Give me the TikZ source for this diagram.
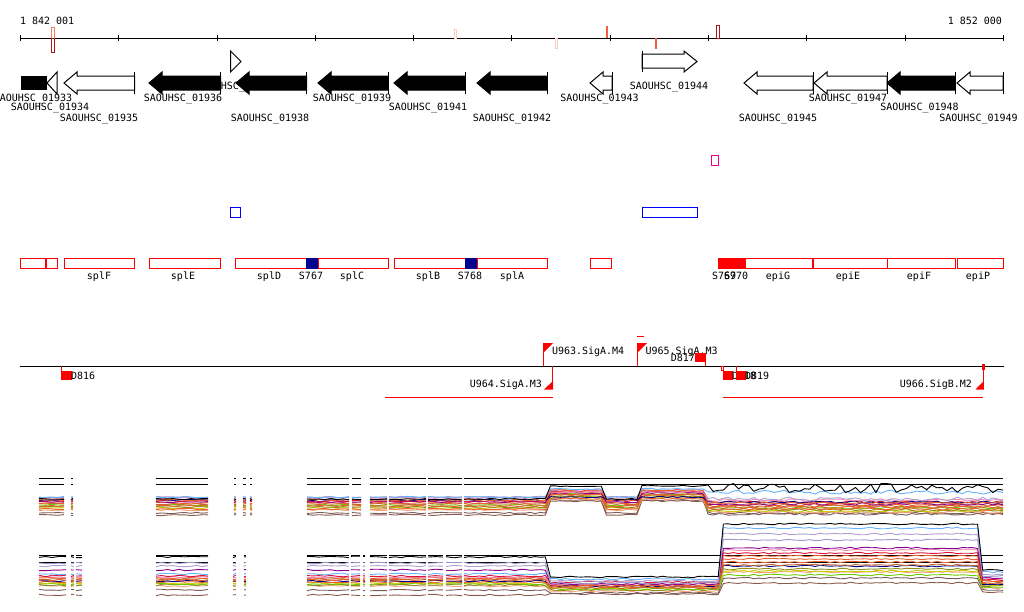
\documentclass[tikz,border=0pt]{standalone}
\usepackage{fontspec}
\setmonofont{DejaVu Sans Mono}
\definecolor{cOR}{HTML}{E8602C}
\definecolor{cBR}{HTML}{8B5A4A}
\definecolor{cOL}{HTML}{8E8E1E}
\definecolor{cGR}{HTML}{66CC00}
\definecolor{cPU}{HTML}{8B008B}
\definecolor{cLB}{HTML}{66B2FF}
\definecolor{cLV}{HTML}{B09ECC}
\definecolor{cLW}{HTML}{9999CC}
\definecolor{cCR}{HTML}{DC143C}
\definecolor{cPK}{HTML}{F08CB4}
\definecolor{cSI}{HTML}{C8642D}
\definecolor{cYE}{HTML}{CCCC00}
\definecolor{cNV}{HTML}{000080}
\definecolor{cSA}{HTML}{F4A07A}
\definecolor{cGB}{HTML}{7A5C5C}
\definecolor{mkSal}{HTML}{F08060}
\definecolor{mkDR}{HTML}{B01818}
\definecolor{mkPale}{HTML}{F8D0C0}
\definecolor{mkOR}{HTML}{F06040}
\definecolor{navyS}{HTML}{000090}
\begin{document}
\begin{tikzpicture}[x=1pt,y=-1pt,
  txt/.style={font=\ttfamily\fontsize{10}{10}\selectfont, inner sep=0pt, outer sep=0pt},
  gline/.style={line width=1pt, draw=black},
  rbox/.style={draw=red, line width=1pt},
  rline/.style={draw=red, line width=1pt},
  tr/.style={line width=0.9pt, line join=round}]
\useasboundingbox (0,0) rectangle (1024,611);
\fill[white] (0,0) rectangle (1024,611);

% ---------- ruler ----------
\draw[line width=1pt] (20,38) -- (1004,38);
\foreach \t in {20.7,118.5,217,315.3,413.6,511.8,610,708.3,806.6,905,1003.3}
  \draw[line width=1pt] (\t,35) -- (\t,41);
\node[txt,anchor=base west] (pstart) at (20,24) {1 842 001};
\node[txt,anchor=base east] (pend) at (1002,24) {1 852 000};
\draw[mkSal,line width=0.8pt] (51.5,27.5) rectangle (54.8,38);
\draw[mkDR,line width=0.8pt] (51.5,38) rectangle (54.8,52);
\draw[mkPale,line width=0.8pt] (454.5,29.5) rectangle (456.5,38);
\draw[mkPale,line width=0.8pt] (555.5,38) rectangle (557.5,48);
\draw[mkOR,line width=2pt] (607,26) -- (607,38);
\draw[mkOR,line width=2pt] (656,38) -- (656,49);
\draw[mkDR,line width=0.8pt] (716.5,25.5) rectangle (719.3,38);

% ---------- gene labels ----------
\node[txt,anchor=base] (l33) at (33,101) {SAOUHSC\_01933};
\node[txt,anchor=base] (l34) at (50,110) {SAOUHSC\_01934};
\node[txt,anchor=base] (l35) at (99,121.5) {SAOUHSC\_01935};
\node[txt,anchor=base] (l36) at (183,101) {SAOUHSC\_01936};
\node[txt,anchor=base] (l37) at (236,89) {SAOUHSC\_01937};
\node[txt,anchor=base] (l38) at (270,121.5) {SAOUHSC\_01938};
\node[txt,anchor=base] (l39) at (352,101) {SAOUHSC\_01939};
\node[txt,anchor=base] (l41) at (428,110) {SAOUHSC\_01941};
\node[txt,anchor=base] (l42) at (512,121.5) {SAOUHSC\_01942};
\node[txt,anchor=base] (l43) at (599.5,101) {SAOUHSC\_01943};
\node[txt,anchor=base] (l44) at (669,89) {SAOUHSC\_01944};
\node[txt,anchor=base] (l45) at (778,121.5) {SAOUHSC\_01945};
\node[txt,anchor=base] (l47) at (848,101) {SAOUHSC\_01947};
\node[txt,anchor=base] (l48) at (919.5,110) {SAOUHSC\_01948};
\node[txt,anchor=base] (l49) at (978.5,121.5) {SAOUHSC\_01949};

% ---------- genes ----------
\newcommand{\geneL}[3]{%
  \draw[gline,fill=#3] (#1,83) -- (#1+13,72) -- (#1+13,76) -- (#2,76) -- (#2,90) -- (#1+13,90) -- (#1+13,94) -- cycle;
  \draw[gline] (#2,72) -- (#2,94);}
\fill[black] (20.5,76) rectangle (47,90);
\draw[gline,fill=white] (47,83) -- (57,72) -- (57,94) -- cycle;
\geneL{64}{134.5}{white}
\geneL{149}{220.5}{black}
\draw[gline,fill=white] (230.5,51) -- (241,61.5) -- (230.5,72) -- cycle;
\geneL{236}{306.5}{black}
\geneL{318}{388}{black}
\geneL{394}{465}{black}
\geneL{477}{547}{black}
\geneL{590}{612}{white}
\draw[gline,fill=white] (642,54) -- (684,54) -- (684,51) -- (697,61.5) -- (684,72) -- (684,68) -- (642,68) -- cycle;
\draw[gline] (642,51) -- (642,72);
\geneL{744}{813}{white}
\geneL{814}{887}{white}
\geneL{887}{955}{black}
\geneL{957}{1003}{white}

% ---------- small boxes ----------
\draw[draw=magenta,line width=1pt] (711.5,155.5) rectangle (718.5,165.5);
\draw[draw=blue,line width=1pt] (230.5,207.5) rectangle (240.5,217.5);
\draw[draw=blue,line width=1pt] (642.5,207.5) rectangle (697.5,217.5);

% ---------- operon boxes ----------
\draw[rbox] (20.7,258.5) rectangle (45,268);
\draw[rbox] (46,258.5) rectangle (57.3,268);
\draw[rbox] (64.3,258.5) rectangle (134.3,268);
\draw[rbox] (149.3,258.5) rectangle (220.3,268);
\draw[rbox] (235.3,258.5) rectangle (306,268);
\fill[navyS] (306,258) rectangle (318,268.5);
\draw[rbox] (318,258.5) rectangle (388.3,268);
\draw[rbox] (394.3,258.5) rectangle (465,268);
\fill[navyS] (465,258) rectangle (477,268.5);
\draw[rbox] (477,258.5) rectangle (547.3,268);
\draw[rbox] (590.3,258.5) rectangle (611.7,268);
\fill[red] (718,258) rectangle (745,268.5);
\draw[rbox] (745,258.5) rectangle (812.3,268);
\draw[rbox] (813.3,258.5) rectangle (887.3,268);
\draw[rbox] (887.3,258.5) rectangle (955.3,268);
\draw[rbox] (957.3,258.5) rectangle (1003.3,268);
\node[txt,anchor=base] (tsplF) at (99,279) {splF};
\node[txt,anchor=base] (tsplE) at (183,279) {splE};
\node[txt,anchor=base] (tsplD) at (269,279) {splD};
\node[txt,anchor=base] (tS767) at (311,279) {S767};
\node[txt,anchor=base] (tsplC) at (352,279) {splC};
\node[txt,anchor=base] (tsplB) at (428,279) {splB};
\node[txt,anchor=base] (tS768) at (470,279) {S768};
\node[txt,anchor=base] (tsplA) at (512,279) {splA};
\node[txt,anchor=base west] (tS769) at (712,279) {S769};
\node[txt,anchor=base west] (tS770) at (724,279) {S770};
\node[txt,anchor=base] (tepiG) at (778,279) {epiG};
\node[txt,anchor=base] (tepiE) at (848,279) {epiE};
\node[txt,anchor=base] (tepiF) at (919,279) {epiF};
\node[txt,anchor=base] (tepiP) at (978,279) {epiP};

% ---------- promoters / terminators ----------
\draw[line width=1pt] (20,366) -- (1004,366);
\draw[rline] (61.5,366) -- (61.5,371);
\fill[red] (61,371) rectangle (71.5,380);
\node[txt,anchor=base west] (tD816) at (71,379) {D816};
% U964
\draw[rline] (385,397.5) -- (553,397.5);
\draw[rline] (552.5,366) -- (552.5,389);
\fill[red] (553,381) -- (553,389.5) -- (544,389.5) -- cycle;
\node[txt,anchor=base east] (tU964) at (542,387) {U964.SigA.M3};
% U963
\draw[rline] (543.5,366) -- (543.5,343);
\fill[red] (543,343) -- (553,343) -- (543,353) -- cycle;
\node[txt,anchor=base west] (tU963) at (552,354) {U963.SigA.M4};
% U965
\draw[rline] (637.5,366) -- (637.5,343);
\fill[red] (637,343) -- (647,343) -- (637,353) -- cycle;
\draw[rline] (637,336) -- (644,336);
\node[txt,anchor=base west] (tU965) at (645.5,354) {U965.SigA.M3};
% D817
\fill[red] (695,353) rectangle (705.5,362);
\draw[rline] (705.3,362) -- (705.3,366);
\node[txt,anchor=base east] (tD817) at (695,361) {D817};
% D818 / D819
\draw[rline] (721.5,366) rectangle (723.5,370.5);
\fill[red] (723.3,371) rectangle (732.5,380);
\node[txt,anchor=base west] (tD818) at (732,379) {D818};
\draw[rline] (736.3,366) -- (736.3,371);
\fill[red] (736,371) rectangle (745.5,380);
\node[txt,anchor=base west] (tD819) at (745,379) {D819};
% U966
\draw[rline] (723,397.5) -- (983,397.5);
\draw[rline] (983.3,366) -- (983.3,389);
\fill[red] (982,364) rectangle (985,370);
\fill[red] (983.8,381) -- (983.8,389.5) -- (975.5,389.5) -- cycle;
\node[txt,anchor=base east] (tU966) at (972,387) {U966.SigB.M2};

% ---------- expression traces ----------
\def\segsTop{39/64,71/73,156/208,234/236,243/246,250/252,307/349,352/361,370/387,389/426,428/462,464/1003}
\def\segsBot{39/66,71/74,76/82,156/208,233/236,244/246,307/349,351/360,363/365,370/387,389/426,428/443,446/462,464/1003}
\pgfmathsetseed{11}
\foreach \a/\b in \segsTop {
  \draw[line width=1pt] (\a,478) -- (\b,478);
  \draw[line width=1pt] (\a,484) -- (\b,484);
}
\foreach \a/\b in \segsBot {
  \draw[line width=1pt] (\a,555) -- (\b,555);
  \draw[line width=1pt] (\a,562) -- (\b,562);
}
\foreach \col/\ya/\yb/\yc/\nz in {
  cGB/513/500/514/0.5, cBR/515/501/513/0.5, cSA/510/499/512/0.5,
  cYE/508/497/511/0.5, cOL/507/496/510/0.5, cGR/505/494/508/0.5,
  cSI/504/494/506/0.5, cOR/509/498/509/0.5, cOR/506/495/507/0.5,
  cOR/503/492/505/0.5, cPU/502/493/504/0.5, cCR/501/491/502/0.5,
  cNV/500/497/502/0.3, cPK/498/492/500/0.5, cLV/497/490/499/1.5,
  cOR/500/490/503/0.5, cLB/497/489/492/1.5, black/499/486/488/4} {
  \foreach \a/\b in \segsTop {
    \pgfmathtruncatemacro\n{max(2,(\b-\a)/5)}
    \draw[tr,\col] plot[domain=\a:\b,samples=\n]
      (\x,{\ya+(\yb-\ya)*((\x>546)*(\x<603)+(\x>639)*(\x<708))+(\yc-\ya)*(\x>708)+(0.7+\nz*(\x>708))*rand});
  }
}
\foreach \col/\yl/\ym/\yh/\yr in {
  cBR/595/594/583/592, cGB/590/593/578/590, cSA/586/591/572/588,
  cOL/585/590/569/586, cGR/584/589/575/587, cYE/583/588/571/585,
  cOR/582/587/562/584, cNV/581/586/566/584, cOR/580/586/559/582,
  cSI/579/588/565/583, cOR/578/585/556/581, cPK/577/584/550/579,
  cCR/576/582/553/580, cLB/574/579/528/572, cPU/570/584/548/578,
  cLW/563/583/540/576, cLV/566/581/534/575, black/557/577/524/570} {
  \foreach \a/\b in \segsBot {
    \pgfmathtruncatemacro\n{max(2,(\b-\a)/5)}
    \draw[tr,\col] plot[domain=\a:\b,samples=\n]
      (\x,{\yl+(\ym-\yl)*(\x>548)+(\yh-\ym)*(\x>720)+(\yr-\yh)*(\x>982)+0.8*rand});
  }
}
\end{tikzpicture}
\end{document}
